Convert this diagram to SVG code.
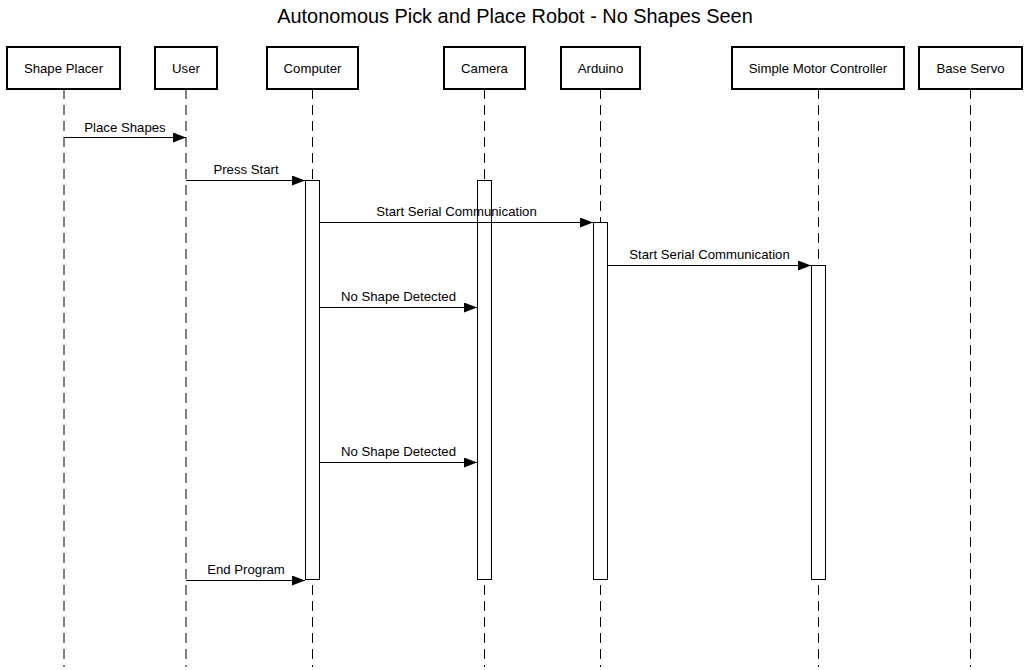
<svg xmlns="http://www.w3.org/2000/svg" width="1028" height="670" viewBox="0 0 1028 670">
<style>
text{font-family:"Liberation Sans",Arial,sans-serif;fill:#000}
.hd rect{fill:#fff;stroke:#000;stroke-width:2}
.hd text{font-size:13.2px;text-anchor:middle}
.life{stroke:#000;stroke-width:1;stroke-dasharray:10 6;fill:none}
.act{fill:#fff;stroke:#000;stroke-width:1}
.msg{stroke:#000;stroke-width:1;fill:none;marker-end:url(#ah)}
.lbl{font-size:13.2px;text-anchor:middle}
</style>
<defs>
<marker id="ah" markerWidth="13" markerHeight="10" refX="13" refY="5" orient="auto" markerUnits="userSpaceOnUse">
<path d="M0,0 L13,5 L0,10 Z" fill="#000"/>
</marker>
</defs>
<text x="515" y="23" font-size="19.9" text-anchor="middle">Autonomous Pick and Place Robot - No Shapes Seen</text>
<g id="lifelines">
<line class="life" x1="64" y1="89" x2="64" y2="667"/>
<line class="life" x1="186" y1="89" x2="186" y2="667"/>
<line class="life" x1="312.5" y1="89" x2="312.5" y2="667"/>
<line class="life" x1="484.5" y1="89" x2="484.5" y2="667"/>
<line class="life" x1="600.5" y1="89" x2="600.5" y2="667"/>
<line class="life" x1="818.5" y1="89" x2="818.5" y2="667"/>
<line class="life" x1="970.5" y1="89" x2="970.5" y2="667"/>
</g>
<g id="shape-placer" class="hd"><rect x="7" y="47" width="113" height="42"/><text x="63.5" y="73">Shape Placer</text></g>
<g id="user" class="hd"><rect x="155" y="47" width="62" height="42"/><text x="186" y="73">User</text></g>
<g id="computer" class="hd"><rect x="267" y="47" width="91" height="42"/><text x="312.5" y="73">Computer</text></g>
<g id="camera" class="hd"><rect x="444" y="47" width="81" height="42"/><text x="484.5" y="73">Camera</text></g>
<g id="arduino" class="hd"><rect x="561" y="47" width="79" height="42"/><text x="600.5" y="73">Arduino</text></g>
<g id="smc" class="hd"><rect x="732" y="47" width="172" height="42"/><text x="818" y="73">Simple Motor Controller</text></g>
<g id="base-servo" class="hd"><rect x="919" y="47" width="103" height="42"/><text x="970.5" y="73">Base Servo</text></g>
<g id="activations">
<rect class="act" x="305.5" y="180.5" width="14" height="399"/>
<rect class="act" x="477.5" y="180.5" width="14" height="399"/>
<rect class="act" x="593.5" y="222.5" width="14" height="357"/>
<rect class="act" x="811.5" y="265.5" width="14" height="314"/>
</g>
<g id="connectors">
<line class="msg" x1="64" y1="137.5" x2="186" y2="137.5"/>
<text class="lbl" x="125" y="132">Place Shapes</text>
<line class="msg" x1="186" y1="180.5" x2="305" y2="180.5"/>
<text class="lbl" x="246" y="174">Press Start</text>
<line class="msg" x1="320" y1="222.5" x2="593" y2="222.5"/>
<text class="lbl" x="456.5" y="216">Start Serial Communication</text>
<line class="msg" x1="608" y1="265.5" x2="811" y2="265.5"/>
<text class="lbl" x="709.5" y="259">Start Serial Communication</text>
<line class="msg" x1="320" y1="307.5" x2="477" y2="307.5"/>
<text class="lbl" x="398.5" y="301">No Shape Detected</text>
<line class="msg" x1="320" y1="462.5" x2="477" y2="462.5"/>
<text class="lbl" x="398.5" y="456">No Shape Detected</text>
<line class="msg" x1="186" y1="580.5" x2="305" y2="580.5"/>
<text class="lbl" x="246" y="574">End Program</text>
</g>
</svg>
